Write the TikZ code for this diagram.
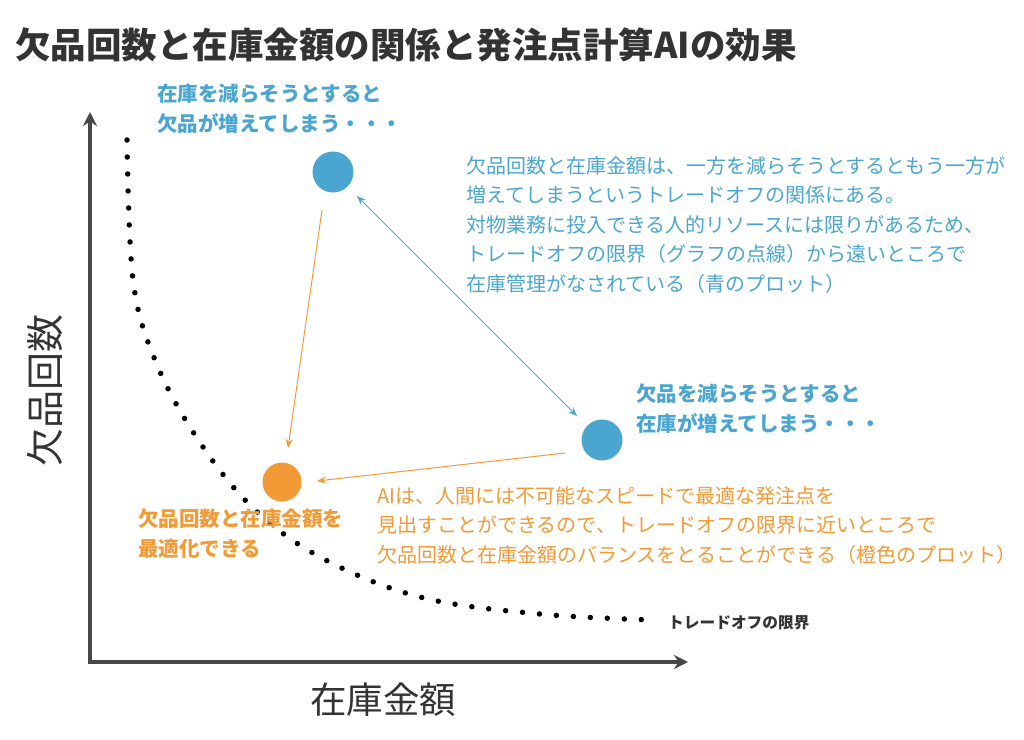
\documentclass[tikz,border=0pt]{standalone}
\usepackage{fontspec}
\setmainfont{Noto Sans CJK JP}
\usetikzlibrary{arrows.meta}
\definecolor{bl}{HTML}{4AA6D0}
\definecolor{org}{HTML}{F19A36}
\definecolor{dk}{HTML}{333333}
\begin{document}
\begin{tikzpicture}[x=1pt,y=-1pt,
  txt/.style={anchor=west,inner sep=0pt,font=\fontsize{20}{29.5}\selectfont,align=left},
  btxt/.style={txt,font=\fontsize{20.5}{29.5}\selectfont\bfseries},
  arr/.style={-{Stealth[length=9pt,width=7pt]},line width=1pt}]
\useasboundingbox (0,0) rectangle (1024,739);
\fill[white] (0,0) rectangle (1024,739);
\node[anchor=west,inner sep=0pt,text=dk,font=\fontsize{35.5}{38}\selectfont\bfseries] (title) at (15,45) {欠品回数と在庫金額の関係と発注点計算AIの効果};
\coordinate (o) at (90,662);
\coordinate (yt) at (90,112);
\coordinate (xt) at (688,662);
\draw[line width=4.5pt,color=dk!90,-{Stealth[length=14pt,width=14pt]}] (90,664) -- (yt);
\draw[line width=4.5pt,color=dk!90,-{Stealth[length=14pt,width=14pt]}] (88,662) -- (xt);
\node[rotate=90,inner sep=0pt,text=dk,font=\fontsize{38}{38}\selectfont] (yl) at (45,390) {欠品回数};
\node[inner sep=0pt,text=dk,font=\fontsize{36.5}{36}\selectfont] (xl) at (383,700) {在庫金額};
\draw[line width=5.5pt,line cap=round,dash pattern=on 0pt off 17pt,color=black]
  plot[smooth,tension=0.6] coordinates {(127,140) (133,280) (155,360) (195,435) (250,505) (320,557) (420,597) (540,614) (655,620)};
\node[anchor=west,inner sep=0pt,text=dk,font=\fontsize{15.7}{18}\selectfont\bfseries] (lim) at (668,623) {トレードオフの限界};
\node[circle,fill=bl,minimum size=41pt,inner sep=0pt] (b1) at (333,172) {};
\node[circle,fill=bl,minimum size=41pt,inner sep=0pt] (b2) at (602,440) {};
\node[circle,fill=org,minimum size=39pt,inner sep=0pt] (o1) at (282,482) {};
\coordinate (a1s) at (322,210); \coordinate (a1e) at (288,448);
\draw[arr,org] (a1s) -- (a1e);
\coordinate (a2s) at (565,453); \coordinate (a2e) at (317,481);
\draw[arr,org] (a2s) -- (a2e);
\coordinate (a3s) at (357,196); \coordinate (a3e) at (577,416);
\draw[arr,bl,{Stealth[length=9pt,width=7pt]}-{Stealth[length=9pt,width=7pt]}] (a3s) -- (a3e);
\node[btxt,text=bl,anchor=north west] (t1) at (157,84) {在庫を減らそうとすると\\欠品が増えてしまう・・・};
\node[txt,text=bl,anchor=north west] (t2) at (466,156) {欠品回数と在庫金額は、一方を減らそうとするともう一方が\\増えてしまうというトレードオフの関係にある。\\対物業務に投入できる人的リソースには限りがあるため、\\トレードオフの限界（グラフの点線）から遠いところで\\在庫管理がなされている（青のプロット）};
\node[btxt,text=bl,anchor=north west] (t3) at (636,384) {欠品を減らそうとすると\\在庫が増えてしまう・・・};
\node[btxt,text=org,anchor=north west] (t4) at (138,509) {欠品回数と在庫金額を\\最適化できる};
\node[txt,text=org,anchor=north west] (t5) at (377,486) {AIは、人間には不可能なスピードで最適な発注点を\\見出すことができるので、トレードオフの限界に近いところで\\欠品回数と在庫金額のバランスをとることができる（橙色のプロット）};
\end{tikzpicture}
\end{document}
